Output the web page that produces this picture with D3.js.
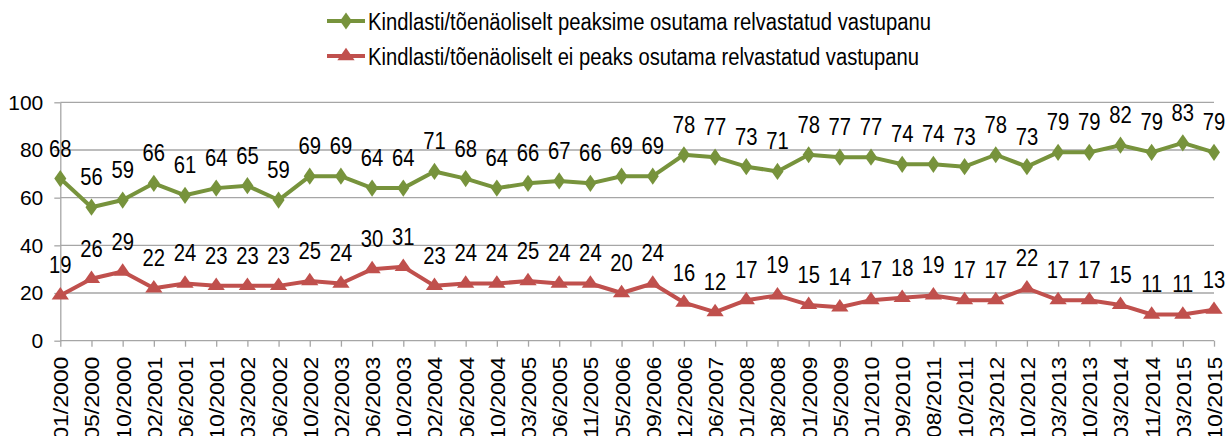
<!DOCTYPE html>
<html>
<head>
<meta charset="utf-8">
<script src="https://cdn.jsdelivr.net/npm/d3@7"></script>
<style>
  body { margin: 0; background: #fff; }
  svg { display: block; font-family: "Liberation Sans", Arial, sans-serif; }
</style>
</head>
<body>
<svg id="chart" width="1229" height="436"></svg>
<script>
const dates = ['01/2000', '05/2000', '10/2000', '02/2001', '06/2001', '10/2001', '03/2002', '06/2002',
    '10/2002', '02/2003', '06/2003', '10/2003', '02/2004', '06/2004', '10/2004', '03/2005', '06/2005',
    '11/2005', '05/2006', '09/2006', '12/2006', '06/2007', '01/2008', '08/2008', '01/2009', '05/2009',
    '01/2010', '09/2010', '08/2011', '10/2011', '03/2012', '10/2012', '03/2013', '10/2013', '03/2014',
    '11/2014', '03/2015', '10/2015'];

const shouldResist = [68, 56, 59, 66, 61, 64, 65, 59, 69, 69, 64, 64, 71, 68, 64, 66, 67, 66, 69, 69,
    78, 77, 73, 71, 78, 77, 77, 74, 74, 73, 78, 73, 79, 79, 82, 79, 83, 79];

const shouldNotResist = [19, 26, 29, 22, 24, 23, 23, 23, 25, 24, 30, 31, 23, 24, 24, 25, 24, 24, 20, 24,
    16, 12, 17, 19, 15, 14, 17, 18, 19, 17, 17, 22, 17, 17, 15, 11, 11, 13];

const yTicks = [0, 20, 40, 60, 80, 100];

const seriesNames = [
    'Kindlasti/tõenäoliselt peaksime osutama relvastatud vastupanu',
    'Kindlasti/tõenäoliselt ei peaks osutama relvastatud vastupanu'
];

const series = [
    { name: seriesNames[0], values: shouldResist, color: '#77933C', symbol: d3.symbolDiamond, size: 95, textLength: 563 },
    { name: seriesNames[1], values: shouldNotResist, color: '#C0504D', symbol: d3.symbolTriangle, size: 90, textLength: 551 }
];

let svg = d3.select('#chart');

let x = d3.scalePoint().domain(dates).range([60.3, 1214]);
let y = d3.scaleLinear().domain([0, 100]).range([340.7, 102.3]);

// Gridlines
svg.append('g')
    .selectAll('line')
    .data(yTicks.filter(d => d > 0))
  .enter().append('line')
    .attr('x1', x.range()[0])
    .attr('x2', x.range()[1])
    .attr('y1', d => y(d))
    .attr('y2', d => y(d))
    .attr('stroke', '#a6a6a6')
    .attr('stroke-width', 1.3);

// Y axis
let yAxis = svg.append('g')
    .attr('transform', 'translate(' + x.range()[0] + ',0)')
    .call(d3.axisLeft(y).tickValues(yTicks).tickSize(6).tickSizeOuter(0).tickPadding(11));
yAxis.select('.domain').attr('stroke', '#a6a6a6').attr('stroke-width', 1.3);
yAxis.selectAll('.tick line').attr('stroke', '#a6a6a6').attr('stroke-width', 1.3);
yAxis.selectAll('.tick text')
    .attr('font-size', 21)
    .attr('fill', '#000')
    .attr('font-family', '"Liberation Sans", Arial, sans-serif');

// X axis
let xAxis = svg.append('g')
    .attr('transform', 'translate(0,' + y(0) + ')')
    .call(d3.axisBottom(x).tickSize(6).tickSizeOuter(0).tickPadding(0));
xAxis.select('.domain').attr('stroke', '#a6a6a6').attr('stroke-width', 1.3)
    .attr('d', 'M' + x.range()[0] + ',0H' + x.range()[1]);
xAxis.selectAll('.tick line').attr('stroke', '#a6a6a6').attr('stroke-width', 1.3);
xAxis.selectAll('.tick text')
    .attr('font-size', 23)
    .attr('fill', '#000')
    .attr('font-family', '"Liberation Sans", Arial, sans-serif')
    .attr('text-anchor', 'end')
    .attr('transform', 'scale(0.9,1) rotate(-90)')
    .attr('x', -16)
    .attr('y', 0)
    .attr('dy', '0.36em');

// Series lines, markers and labels
let line = d3.line()
    .x((d, i) => x(dates[i]))
    .y(d => y(d));

series.forEach((s) => {
    let g = svg.append('g');

    g.append('path')
        .datum(s.values)
        .attr('d', line)
        .attr('fill', 'none')
        .attr('stroke', s.color)
        .attr('stroke-width', 4)
        .attr('stroke-linejoin', 'round');

    g.selectAll('.marker')
        .data(s.values)
      .enter().append('path')
        .attr('class', 'marker')
        .attr('d', d3.symbol().type(s.symbol).size(s.size))
        .attr('transform', (d, i) => 'translate(' + x(dates[i]) + ',' + y(d) + ')' +
            (s.symbol === d3.symbolDiamond ? ' scale(1.15,0.95)' : ' scale(1.2,1)'))
        .attr('fill', s.color);

    g.selectAll('.label')
        .data(s.values)
      .enter().append('text')
        .attr('class', 'label')
        .attr('transform', (d, i) => 'translate(' + x(dates[i]) + ',' + (y(d) - 22) + ') scale(0.88,1)')
        .attr('text-anchor', 'middle')
        .attr('font-size', 23)
        .attr('fill', '#000')
        .text(d => d);
});

// Legend
let legend = svg.append('g');
series.forEach((s, i) => {
    let ly = 21 + i * 35;
    legend.append('line')
        .attr('x1', 327).attr('x2', 365)
        .attr('y1', ly).attr('y2', ly)
        .attr('stroke', s.color)
        .attr('stroke-width', 4);
    legend.append('path')
        .attr('d', d3.symbol().type(s.symbol).size(s.size))
        .attr('transform', 'translate(346,' + ly + ')' +
            (s.symbol === d3.symbolDiamond ? ' scale(1.15,0.95)' : ' scale(1.2,1)'))
        .attr('fill', s.color);
    legend.append('text')
        .attr('x', 368)
        .attr('y', ly + 8.5)
        .attr('font-size', 23)
        .attr('textLength', s.textLength)
        .attr('lengthAdjust', 'spacingAndGlyphs')
        .attr('fill', '#000')
        .text(s.name);
});
</script>
</body>
</html>
